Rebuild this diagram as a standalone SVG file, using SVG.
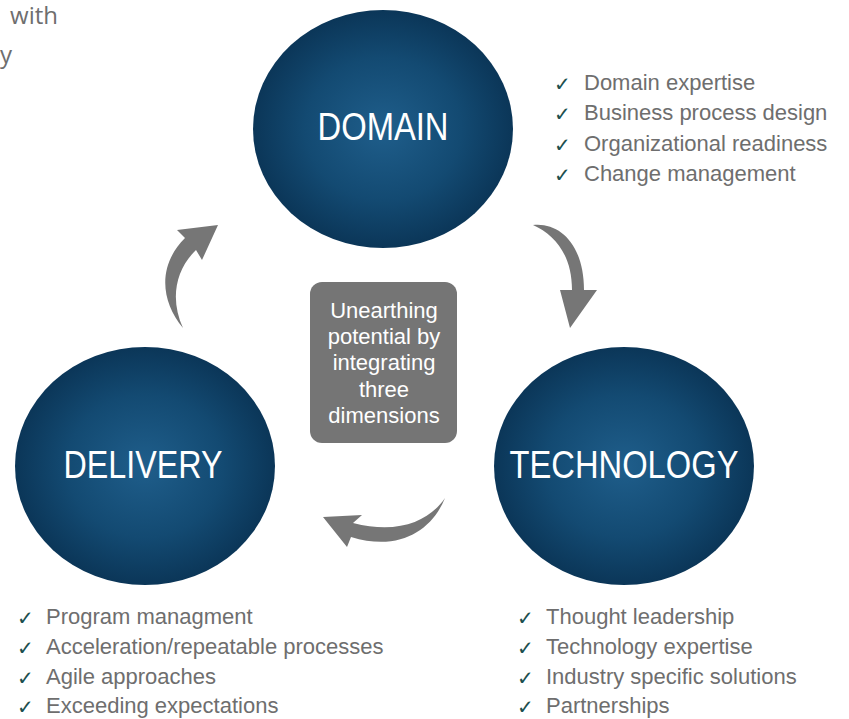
<svg xmlns="http://www.w3.org/2000/svg" width="849" height="719" viewBox="0 0 849 719">
<defs>
<radialGradient id="g" cx="50%" cy="50%" r="50%">
<stop offset="0" stop-color="#1f5e8b"/>
<stop offset="0.6" stop-color="#134a72"/>
<stop offset="1" stop-color="#0b3658"/>
</radialGradient>
<style>
.c{fill:url(#g)}
.lbl{font-family:"Liberation Sans",Arial,sans-serif;font-size:38px;fill:#ffffff;text-anchor:middle}
.li{font-family:"Liberation Sans",Arial,sans-serif;font-size:22px;fill:#6e6e6e}
.ck{font-family:"DejaVu Sans",sans-serif;font-size:20px;fill:#1c4f4e}
.arr{fill:#767676}
.ctr{font-family:"Liberation Sans",Arial,sans-serif;font-size:22px;fill:#ffffff;text-anchor:middle}
.tl{font-family:"Open Sans","Liberation Sans",sans-serif;font-size:24px;fill:#6e6e6e;text-anchor:end}
</style>
</defs>
<rect width="849" height="719" fill="#ffffff"/>
<g id="top-left-text">
<text class="tl" x="58" y="24">with</text>
<text class="tl" x="12" y="63">y</text>
</g>
<g id="connectors">
<path class="arr" d="M183,328 C160,300 158,265 185,238 L177,230 L218,225 L202,260 L196,250 C175,270 170,300 183,328 Z"/>
<path class="arr" d="M533,225 C560,222 584,245 584,290 L597,290 L570,328 L560,290 L572,290 C572,255 555,235 533,225 Z"/>
<path class="arr" d="M445,498 C430,520 400,535 353,523 L362,515 L323,517 L347,547 L351,537 C400,552 432,530 445,498 Z"/>
</g>
<g id="domain">
<ellipse class="c" cx="383" cy="129" rx="130" ry="119"/>
<text class="lbl" x="383" y="140" textLength="131" lengthAdjust="spacingAndGlyphs">DOMAIN</text>
</g>
<g id="delivery">
<ellipse class="c" cx="145" cy="466" rx="130" ry="119"/>
<text class="lbl" x="143" y="478" textLength="159" lengthAdjust="spacingAndGlyphs">DELIVERY</text>
</g>
<g id="technology">
<ellipse class="c" cx="624" cy="466" rx="130" ry="119"/>
<text class="lbl" x="624" y="478" textLength="229" lengthAdjust="spacingAndGlyphs">TECHNOLOGY</text>
</g>
<g id="center">
<rect x="310" y="282" width="147" height="161" rx="12" ry="12" fill="#757575"/>
<text class="ctr" x="384" y="318">Unearthing</text>
<text class="ctr" x="384" y="344">potential by</text>
<text class="ctr" x="384" y="370">integrating</text>
<text class="ctr" x="384" y="397">three</text>
<text class="ctr" x="384" y="423">dimensions</text>
</g>
<g id="domain-list">
<text class="ck" x="554" y="91">✓</text><text class="li" x="584" y="90">Domain expertise</text>
<text class="ck" x="554" y="121">✓</text><text class="li" x="584" y="120">Business process design</text>
<text class="ck" x="554" y="152">✓</text><text class="li" x="584" y="151">Organizational readiness</text>
<text class="ck" x="554" y="182">✓</text><text class="li" x="584" y="181">Change management</text>
</g>
<g id="delivery-list">
<text class="ck" x="17" y="625">✓</text><text class="li" x="46" y="624">Program managment</text>
<text class="ck" x="17" y="655">✓</text><text class="li" x="46" y="654">Acceleration/repeatable processes</text>
<text class="ck" x="17" y="685">✓</text><text class="li" x="46" y="684">Agile approaches</text>
<text class="ck" x="17" y="714">✓</text><text class="li" x="46" y="713">Exceeding expectations</text>
</g>
<g id="technology-list">
<text class="ck" x="517" y="625">✓</text><text class="li" x="546" y="624">Thought leadership</text>
<text class="ck" x="517" y="655">✓</text><text class="li" x="546" y="654">Technology expertise</text>
<text class="ck" x="517" y="685">✓</text><text class="li" x="546" y="684">Industry specific solutions</text>
<text class="ck" x="517" y="714">✓</text><text class="li" x="546" y="713">Partnerships</text>
</g>
</svg>
